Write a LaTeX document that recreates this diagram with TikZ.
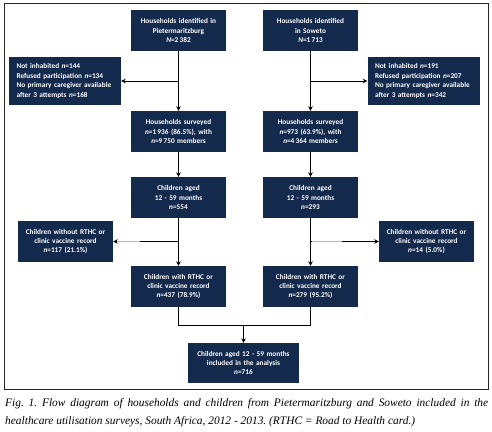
\documentclass[tikz,border=0pt]{standalone}
\usepackage{fontspec}
\setmainfont{Liberation Serif}
\newfontfamily\boxfont{Carlito}
\usetikzlibrary{arrows.meta}
\definecolor{navy}{RGB}{19,42,76}
\frenchspacing
\tikzset{
  fbox/.style={fill=navy, text=white, inner sep=0pt, align=center,
    minimum width=95pt, minimum height=41pt, text width=93pt,
    font=\boxfont\bfseries\fontsize{7.3}{9.4}\selectfont},
  exbox/.style={fbox, minimum width=112pt, minimum height=48pt, text width=97pt, align=left},
  arr/.style={draw=black, line width=0.8pt, -{Stealth[length=4.5pt,width=4.5pt]}},
  ln/.style={draw=black, line width=0.8pt},
  ghost/.style={draw=gray!55, line width=1.5pt},
  captext/.style={anchor=base west, inner sep=0pt, font=\itshape\fontsize{11.4}{13}\selectfont}
}
\begin{document}
\begin{tikzpicture}[x=1pt,y=-1pt]
\useasboundingbox (0,0) rectangle (492,431);
\draw[line width=0.9pt, black!85] (4,3) rectangle (488,389);

\node[fbox] (top1) at (178.5,30.5) {Households identified in\\Pietermaritzburg\\\textit{N}=2\,382};
\node[fbox] (top2) at (310.5,30.5) {Households identified\\in Soweto\\\textit{N}=1\,713};
\node[exbox] (ex1) at (65,81) {Not inhabited \textit{n}=144\\Refused participation \textit{n}=134\\No primary caregiver available\\after 3 attempts \textit{n}=168};
\node[exbox] (ex2) at (423.5,81) {Not inhabited \textit{n}=191\\Refused participation \textit{n}=207\\No primary caregiver available\\after 3 attempts \textit{n}=342};
\node[fbox] (surv1) at (178.5,131.5) {Households surveyed\\\textit{n}=1\,936 (86.5\%), with\\\textit{n}=9\,750 members};
\node[fbox] (surv2) at (310.5,131.5) {Households surveyed\\\textit{n}=973 (63.9\%), with\\\textit{n}=4\,364 members};
\node[fbox] (age1) at (178.5,197.5) {Children aged\\12 - 59 months\\\textit{n}=554};
\node[fbox] (age2) at (310.5,197.5) {Children aged\\12 - 59 months\\\textit{n}=293};
\node[fbox] (wo1) at (65.5,241.5) {Children without RTHC or\\clinic vaccine record\\\textit{n}=117 (21.1\%)};
\node[fbox] (wo2) at (426.5,241.5) {Children without RTHC or\\clinic vaccine record\\\textit{n}=14 (5.0\%)};
\node[fbox] (with1) at (178.5,286.5) {Children with RTHC or\\clinic vaccine record\\\textit{n}=437 (78.9\%)};
\node[fbox] (with2) at (310.5,286.5) {Children with RTHC or\\clinic vaccine record\\\textit{n}=279 (95.2\%)};
\node[fbox, minimum width=111pt, minimum height=40pt, text width=108pt] (fin) at (243.5,363) {Children aged 12 - 59 months\\included in the analysis\\\textit{n}=716};

\draw[arr] (top1) -- (surv1);
\draw[arr] (top2) -- (surv2);
\draw[arr] (top1.south |- ex1.east) -- (ex1.east);
\draw[arr] (top2.south |- ex2.west) -- (ex2.west);
\draw[arr] (surv1) -- (age1);
\draw[arr] (surv2) -- (age2);
\draw[arr] (age1) -- (with1);
\draw[arr] (age2) -- (with2);
\draw[arr] (age1.south |- wo1.east) -- (wo1.east);
\draw[arr] (age2.south |- wo2.west) -- (wo2.west);
\draw[ghost] ([xshift=4pt]wo1.east) -- ([xshift=27pt]wo1.east);
\draw[ghost] ([xshift=1pt]age2.south |- wo2.west) -- ([xshift=-37pt]wo2.west);
\coordinate (m) at (243.5,325);
\draw[ln] (with1.south) |- (m);
\draw[ln] (with2.south) |- (m);
\draw[arr] (m) -- (fin.north);

\node[captext] (cap1) at (5,406)
  {\makebox[483pt][s]{Fig. 1. Flow diagram of households and children from Pietermaritzburg and Soweto included in the}};
\node[captext] (cap2) at (5,424)
  {healthcare utilisation surveys, South Africa, 2012 - 2013. (RTHC = Road to Health card.)};
\end{tikzpicture}
\end{document}
